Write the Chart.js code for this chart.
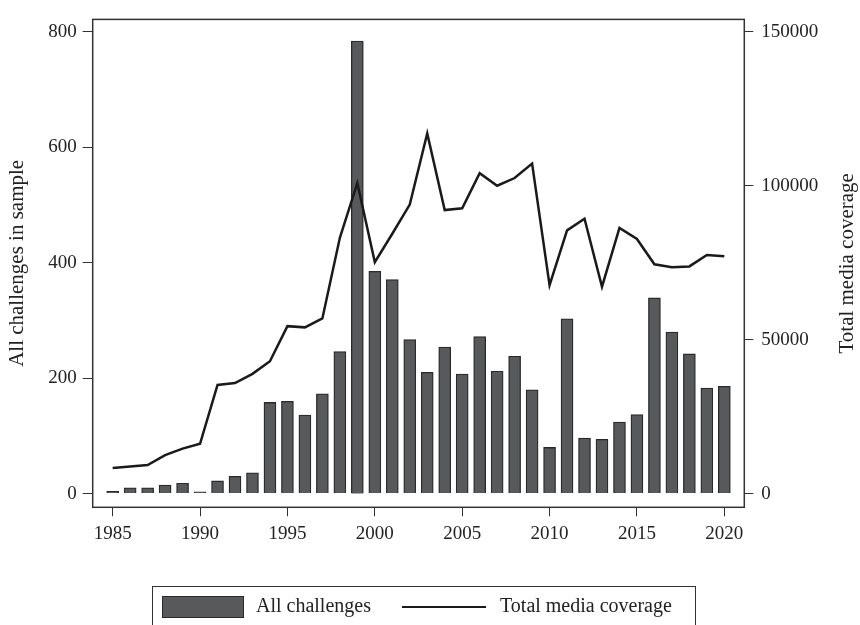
<!DOCTYPE html>
<html>
<head>
<meta charset="utf-8">
<script src="https://cdn.jsdelivr.net/npm/chart.js@4/dist/chart.umd.min.js"></script>
<style>
  html, body { margin: 0; padding: 0; background: #ffffff; }
  #wrap { position: relative; width: 860px; height: 625px; overflow: hidden; }
  #wrap canvas { position: absolute; left: 0; top: 0; }
  .legend {
    position: absolute; left: 152px; top: 586px; width: 544px; height: 60px;
    border: 1.5px solid #333; box-sizing: border-box;
    font-family: "Liberation Serif", serif; font-size: 20px; color: #222;
  }
  .legend .swatch {
    position: absolute; left: 9px; top: 9px; width: 80px; height: 20px;
    background: #58595b; border: 1.5px solid #2a2a2a;
  }
  .legend .line {
    position: absolute; left: 249px; top: 18.5px; width: 84px; height: 2.5px; background: #1a1a1a;
  }
  .legend .label { position: absolute; top: 6px; line-height: 24px; white-space: nowrap; }
</style>
</head>
<body>
<div id="wrap">
  <canvas id="chartChallenges" width="860" height="625"></canvas>
  <div class="legend">
    <span class="swatch"></span><span class="label" style="left:103px">All challenges</span>
    <span class="line"></span><span class="label" style="left:347px">Total media coverage</span>
  </div>
</div>
<script>
const years = [1985, 1986, 1987, 1988, 1989, 1990, 1991, 1992, 1993, 1994, 1995, 1996,
  1997, 1998, 1999, 2000, 2001, 2002, 2003, 2004, 2005, 2006, 2007, 2008,
  2009, 2010, 2011, 2012, 2013, 2014, 2015, 2016, 2017, 2018, 2019, 2020];

const challenges = [4, 10, 10, 15, 18, 3, 22, 30, 36, 158, 160, 136,
  173, 246, 784, 385, 371, 267, 210, 254, 207, 272, 212, 238,
  180, 80, 303, 96, 94, 124, 137, 339, 280, 242, 183, 186];

const mediaCoverage = [8300, 8800, 9300, 12500, 14600, 16200, 35300, 35900, 38900, 43000, 54400, 54000,
  56900, 83100, 100900, 75200, 84400, 93900, 117000, 92100, 92700, 104100, 100000, 102500,
  107200, 67700, 85500, 89300, 67200, 86300, 82700, 74500, 73500, 73800, 77500, 77100];

const yearTicks = [1985, 1990, 1995, 2000, 2005, 2010, 2015, 2020];
const leftTicks = [0, 200, 400, 600, 800];
const rightTicks = [0, 50000, 100000, 150000];

const FONT = "'Liberation Serif', serif";
const INK = "#222222";

const frameAndTitles = {
  id: "frameAndTitles",
  afterDraw(chart) {
    const { ctx, chartArea } = chart;
    const midY = (chartArea.top + chartArea.bottom) / 2;
    ctx.save();
    ctx.strokeStyle = "#333333";
    ctx.lineWidth = 1.5;
    ctx.strokeRect(chartArea.left, chartArea.top, chartArea.right - chartArea.left, chartArea.bottom - chartArea.top);

    ctx.fillStyle = INK;
    ctx.font = "21px " + FONT;
    ctx.textAlign = "center";
    ctx.textBaseline = "middle";
    [[17, "All challenges in sample"], [847, "Total media coverage"]].forEach(([x, text]) => {
      ctx.save();
      ctx.translate(x, midY);
      ctx.rotate(-Math.PI / 2);
      ctx.fillText(text, 0, 0);
      ctx.restore();
    });
    ctx.restore();
  }
};

function fixedTicks(values) {
  return (scale) => {
    scale.ticks = values.map((value) => ({ value }));
  };
}

function tickGrid(length) {
  return { drawOnChartArea: false, drawTicks: true, tickLength: length, color: "#333333", lineWidth: 1, offset: false };
}

new Chart(document.getElementById("chartChallenges"), {
  type: "bar",
  data: {
    datasets: [
      {
        type: "line",
        label: "Total media coverage",
        data: years.map((year, i) => ({ x: year, y: mediaCoverage[i] })),
        yAxisID: "y1",
        borderColor: "#1a1a1a",
        borderWidth: 2.5,
        pointRadius: 0,
        tension: 0,
        order: 0
      },
      {
        label: "All challenges",
        data: years.map((year, i) => ({ x: year, y: challenges[i] })),
        yAxisID: "y",
        backgroundColor: "#58595b",
        borderColor: "#2a2a2a",
        borderWidth: 1.3,
        barThickness: 12,
        order: 1
      }
    ]
  },
  options: {
    responsive: false,
    animation: false,
    layout: { padding: { top: 8, left: 0, right: 0, bottom: 0 } },
    plugins: { legend: { display: false }, tooltip: { enabled: false } },
    scales: {
      x: {
        type: "linear",
        min: 1983.857,
        max: 2021.143,
        offset: false,
        afterBuildTicks: fixedTicks(yearTicks),
        afterFit: (scale) => { scale.height = 117.7; },
        border: { display: false },
        grid: tickGrid(9),
        ticks: { color: INK, padding: 6, maxRotation: 0, font: { family: FONT, size: 19 }, callback: (v) => String(v) }
      },
      y: {
        position: "left",
        min: -23.7,
        max: 821.5,
        afterBuildTicks: fixedTicks(leftTicks),
        afterFit: (scale) => { scale.width = 92.7; },
        border: { display: false },
        grid: tickGrid(10),
        ticks: { color: INK, padding: 6, font: { family: FONT, size: 19 }, callback: (v) => String(v) }
      },
      y1: {
        position: "right",
        min: -4444,
        max: 154031,
        afterBuildTicks: fixedTicks(rightTicks),
        afterFit: (scale) => { scale.width = 115.7; },
        border: { display: false },
        grid: tickGrid(9),
        ticks: { color: INK, padding: 8, font: { family: FONT, size: 19 }, callback: (v) => String(v) }
      }
    }
  },
  plugins: [frameAndTitles]
});
</script>
</body>
</html>
